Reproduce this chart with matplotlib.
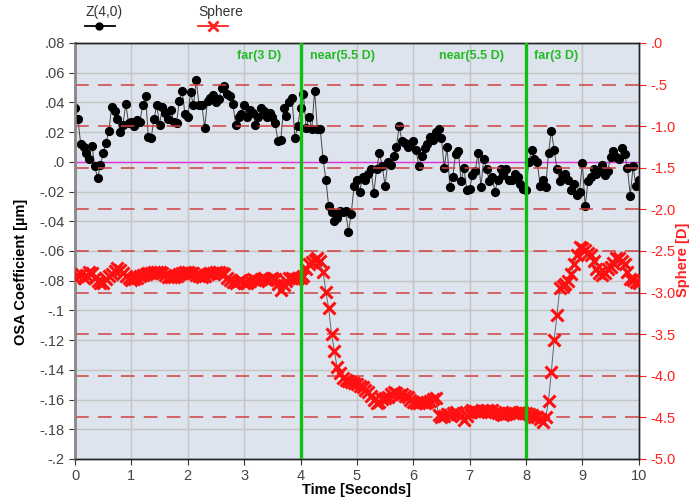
import numpy as np
import matplotlib
matplotlib.use("Agg")
import matplotlib.pyplot as plt
from matplotlib.lines import Line2D

plt.rcParams['font.family'] = ['Liberation Sans', 'DejaVu Sans']

# ---------------- data ----------------
z40 = [0.036, 0.029, 0.012, 0.010, 0.006, 0.002, 0.011, -0.003, -0.011, -0.002,
       0.006, 0.013, 0.021, 0.037, 0.034, 0.029, 0.020, 0.025, 0.039, 0.026,
       0.027, 0.024, 0.028, 0.027, 0.038, 0.044, 0.017, 0.016, 0.029, 0.038,
       0.025, 0.037, 0.033, 0.029, 0.035, 0.027, 0.026, 0.041, 0.048, 0.032,
       0.030, 0.047, 0.038, 0.055, 0.038, 0.038, 0.023, 0.041, 0.043, 0.045,
       0.040, 0.042, 0.050, 0.051, 0.046, 0.044, 0.039, 0.025, 0.030, 0.032,
       0.038, 0.030, 0.035, 0.033, 0.025, 0.030, 0.036, 0.034, 0.030, 0.033,
       0.030, 0.026, 0.014, 0.015, 0.036, 0.031, 0.040, 0.043, 0.016, 0.024,
       0.036, 0.046, 0.023, 0.030, 0.022, 0.048, 0.022, 0.022, 0.002, -0.012,
       -0.030, -0.034, -0.040, -0.038, -0.033, -0.034, -0.033, -0.047, -0.035, -0.016,
       -0.012, -0.020, -0.010, -0.012, -0.008, -0.005, -0.021, -0.005, 0.006, -0.003,
       -0.016, 0.000, -0.002, 0.004, 0.010, 0.024, 0.014, 0.013, 0.010, 0.012,
       0.014, 0.008, -0.003, 0.004, 0.009, 0.012, 0.017, 0.015, 0.020, 0.022,
       0.016, -0.004, 0.010, -0.017, -0.010, 0.005, 0.007, -0.013, -0.004, -0.019,
       -0.018, -0.009, -0.006, 0.006, -0.017, 0.002, -0.005, -0.013, -0.010, -0.020,
       -0.012, -0.005, -0.009, -0.005, -0.012, -0.012, -0.008, -0.010, -0.015, -0.018,
       -0.019, 0.000, 0.008, 0.002, 0.000, -0.016, -0.012, -0.017, 0.006, 0.021,
       0.008, -0.005, -0.013, -0.009, -0.008, -0.012, -0.019, -0.015, -0.022, -0.020,
       -0.001, -0.030, -0.013, -0.010, -0.005, -0.008, -0.006, -0.002, -0.009, -0.006,
       0.003, 0.007, 0.003, 0.002, 0.009, 0.005, -0.004, -0.023, -0.003, -0.016,
       -0.012]

sphere = [-2.83, -2.80, -2.78, -2.82, -2.79, -2.75, -2.77, -2.83, -2.86, -2.88,
          -2.89, -2.84, -2.80, -2.78, -2.74, -2.71, -2.73, -2.77, -2.80, -2.83,
          -2.85, -2.84, -2.82, -2.80, -2.79, -2.78, -2.77, -2.76, -2.75, -2.75,
          -2.75, -2.77, -2.79, -2.81, -2.81, -2.81, -2.80, -2.78, -2.76, -2.75,
          -2.75, -2.76, -2.77, -2.79, -2.80, -2.81, -2.80, -2.78, -2.77, -2.76,
          -2.75, -2.75, -2.76, -2.78, -2.82, -2.85, -2.87, -2.88, -2.86, -2.85,
          -2.88, -2.89, -2.86, -2.84, -2.85, -2.86, -2.84, -2.83, -2.85, -2.84,
          -2.83, -2.84, -2.90, -2.97, -2.91, -2.86, -2.83, -2.82, -2.84, -2.82,
          -2.82, -2.80, -2.72, -2.66, -2.63, -2.61, -2.59, -2.62, -2.75, -2.99,
          -3.19, -3.50, -3.70, -3.90, -3.97, -4.03, -4.05, -4.06, -4.08, -4.09,
          -4.10, -4.12, -4.14, -4.17, -4.20, -4.24, -4.29, -4.33, -4.31, -4.28,
          -4.27, -4.25, -4.22, -4.20, -4.21, -4.23, -4.22, -4.24, -4.26, -4.29,
          -4.31, -4.33, -4.33, -4.32, -4.33, -4.32, -4.30, -4.28, -4.27, -4.47,
          -4.49, -4.48, -4.46, -4.47, -4.45, -4.44, -4.46, -4.48, -4.53, -4.48,
          -4.44, -4.41, -4.42, -4.43, -4.43, -4.42, -4.41, -4.42, -4.41, -4.43,
          -4.45, -4.46, -4.47, -4.46, -4.45, -4.44, -4.45, -4.45, -4.44, -4.45,
          -4.45, -4.46, -4.47, -4.49, -4.50, -4.52, -4.55, -4.50, -4.30, -3.95,
          -3.57, -3.27, -2.95, -2.92, -2.90, -2.86, -2.78, -2.66, -2.55, -2.45,
          -2.46, -2.49, -2.52, -2.55, -2.62, -2.72, -2.76, -2.79, -2.77, -2.72,
          -2.69, -2.64, -2.59, -2.58, -2.62, -2.66, -2.75, -2.84, -2.85, -2.87,
          -2.89]

t_z = np.linspace(0, 10, len(z40))
t_s = np.linspace(0, 10, len(sphere))

left_ticks = [0.08, 0.06, 0.04, 0.02, 0.0, -0.02, -0.04, -0.06, -0.08, -0.1,
              -0.12, -0.14, -0.16, -0.18, -0.2]
left_labels = ['.08', '.06', '.04', '.02', '.0', '-.02', '-.04', '-.06', '-.08', '-.1',
               '-.12', '-.14', '-.16', '-.18', '-.2']
right_ticks = [0.0, -0.5, -1.0, -1.5, -2.0, -2.5, -3.0, -3.5, -4.0, -4.5, -5.0]
right_labels = ['.0', '-.5', '-1.0', '-1.5', '-2.0', '-2.5', '-3.0', '-3.5', '-4.0', '-4.5', '-5.0']
x_ticks = list(range(0, 11))

switch_times = [4, 8]
phase_labels = ['far(3 D)', 'near(5.5 D)', 'near(5.5 D)', 'far(3 D)']
phase_x = [3.27, 4.75, 7.03, 8.54]

# ---------------- figure ----------------
fig = plt.figure(figsize=(6.95, 4.97), dpi=100)
ax = fig.add_axes([0.108, 0.0765, 0.811, 0.837])
ax.set_facecolor('#dde4ee')
ax2 = ax.twinx()

ax.set_xlim(0, 10)
ax.set_ylim(-0.2, 0.08)
ax2.set_ylim(-5.0, 0.0)

ax.set_xticks(x_ticks)
ax.set_xticklabels([str(v) for v in x_ticks])
ax.set_yticks(left_ticks)
ax.set_yticklabels(left_labels)
ax2.set_yticks(right_ticks)
ax2.set_yticklabels(right_labels)

ax.grid(True, color='#c4c4c4', lw=1.0)
ax.set_axisbelow(True)

grid_red = '#d04040'
for v in right_ticks[1:-1]:
    ax2.axhline(v, color=grid_red, lw=1.1, dashes=(9, 6), zorder=1)

ax.axhline(0.0, color='#e030e0', lw=1.0, zorder=2)

ax.plot(t_z, z40, color='#444444', lw=0.7, marker='o', ms=5.6,
        mfc='black', mec='black', zorder=4)
ax2.plot(t_s, sphere, color='#666666', lw=0.7, marker='x', ms=8,
         mec='#ff1010', mew=2.2, zorder=3)

for x in switch_times:
    ax2.axvline(x, color='#10c010', lw=2.4, zorder=5)

for x, lab in zip(phase_x, phase_labels):
    ax2.text(x, -0.08, lab, color='#22bb22', fontsize=9, fontweight='bold',
             ha='center', va='top', zorder=6)

for a in (ax, ax2):
    for s in a.spines.values():
        s.set_color('#222222')
        s.set_linewidth(1.0)
    a.spines['left'].set_color('#8a8a8a')
    a.spines['left'].set_linewidth(1.8)

ax.tick_params(axis='both', labelsize=10.5, colors='#333333', length=4,
               labelcolor='#444444')
ax.tick_params(axis='x', pad=3)
ax2.tick_params(axis='y', labelsize=10.5, colors='#ff2020', length=5,
                labelcolor='#ff2020')

ax.set_xlabel('Time [Seconds]', fontsize=10.5, fontweight='bold', labelpad=0)
ax.set_ylabel('OSA Coefficient [µm]', fontsize=10.5, fontweight='bold')
ax.yaxis.set_label_coords(-0.083, 0.45)
ax2.set_ylabel('Sphere [D]', fontsize=10.5, fontweight='bold', color='#ff2020')
ax2.yaxis.set_label_coords(1.066, 0.478)

# legend above the plot
fig.text(85 / 695, 1 - 12 / 497, 'Z(4,0)', fontsize=10, color='#333333', ha='left', va='center')
fig.text(198 / 695, 1 - 12 / 497, 'Sphere', fontsize=10, color='#333333', ha='left', va='center')
fig.add_artist(Line2D([85 / 695, 115 / 695], [1 - 26 / 497] * 2, color='black', lw=1.3,
                      transform=fig.transFigure))
fig.add_artist(Line2D([99 / 695], [1 - 26 / 497], color='black', marker='o', ms=5,
                      transform=fig.transFigure))
fig.add_artist(Line2D([198 / 695, 228 / 695], [1 - 26 / 497] * 2, color='#ff2020', lw=1.3,
                      transform=fig.transFigure))
fig.add_artist(Line2D([213 / 695], [1 - 26 / 497], color='#ff2020', marker='x', ms=7,
                      mew=2, transform=fig.transFigure))

fig.savefig('out.png', dpi=100)
